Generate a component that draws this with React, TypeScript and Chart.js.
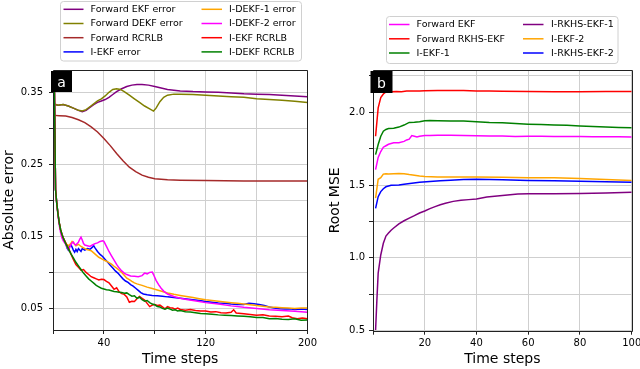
import React, { useEffect, useRef } from 'react';
import { Chart, registerables } from 'chart.js';

Chart.register(...registerables);

const FONT = "'DejaVu Sans', 'Liberation Sans', sans-serif";

type Pt = [number, number];

// ---------------- Panel (a): absolute error vs time step ----------------
const forwardEkfError: Pt[] = [[1,0.333],[4,0.332],[8,0.333],[12,0.331],[16,0.328],[20,0.325],[23,0.323],[26,0.325],[29,0.329],[32,0.333],[35,0.336],[38,0.338],[41,0.34],[44,0.343],[47,0.347],[50,0.351],[54,0.355],[58,0.358],[62,0.36],[66,0.361],[70,0.361],[75,0.36],[80,0.358],[85,0.356],[90,0.354],[95,0.353],[100,0.352],[110,0.351],[120,0.3505],[130,0.35],[140,0.349],[150,0.348],[160,0.3475],[170,0.347],[180,0.346],[190,0.345],[200,0.344]];
const forwardDekfError: Pt[] = [[1,0.334],[4,0.332],[8,0.333],[12,0.331],[16,0.328],[20,0.325],[23,0.324],[26,0.326],[29,0.33],[32,0.334],[35,0.338],[38,0.341],[41,0.345],[44,0.35],[47,0.354],[50,0.355],[53,0.354],[56,0.351],[60,0.346],[64,0.341],[68,0.336],[72,0.331],[76,0.327],[79,0.324],[81,0.328],[84,0.337],[87,0.343],[90,0.346],[95,0.3475],[100,0.3475],[110,0.347],[120,0.346],[130,0.345],[140,0.344],[150,0.343],[160,0.341],[170,0.34],[180,0.339],[190,0.3375],[200,0.336]];
const forwardRcrlb: Pt[] = [[1,0.318],[5,0.3175],[10,0.317],[15,0.315],[20,0.312],[25,0.308],[30,0.302],[35,0.295],[40,0.286],[45,0.276],[50,0.265],[55,0.255],[60,0.246],[65,0.24],[70,0.235],[75,0.232],[80,0.23],[90,0.2285],[100,0.228],[120,0.2275],[150,0.227],[200,0.227]];
const iEkfError: Pt[] = [[1,0.37],[2,0.215],[3,0.195],[4,0.18],[5,0.168],[6,0.159],[7,0.153],[8,0.148],[10,0.14],[11,0.134],[12,0.131],[13,0.136],[14,0.139],[15,0.135],[16,0.131],[17,0.128],[18,0.132],[19,0.129],[20,0.133],[21,0.131],[22,0.129],[23,0.133],[25,0.131],[27,0.133],[29,0.132],[31,0.135],[32,0.137],[33,0.134],[35,0.129],[37,0.125],[39,0.122],[41,0.118],[43,0.114],[45,0.11],[47,0.106],[49,0.102],[51,0.099],[53,0.095],[55,0.091],[57,0.088],[59,0.086],[61,0.083],[63,0.081],[65,0.078],[67,0.075],[69,0.072],[71,0.07],[74,0.069],[78,0.068],[82,0.0675],[86,0.067],[90,0.066],[95,0.065],[100,0.064],[105,0.063],[110,0.062],[115,0.061],[120,0.0595],[125,0.0585],[130,0.0575],[135,0.057],[140,0.056],[145,0.0555],[150,0.0555],[154,0.057],[158,0.0565],[162,0.0555],[166,0.054],[170,0.052],[174,0.0505],[178,0.0495],[182,0.049],[186,0.0495],[190,0.0485],[195,0.049],[200,0.0485]];
const iDekf1Error: Pt[] = [[1,0.37],[2,0.215],[3,0.195],[4,0.18],[5,0.168],[6,0.159],[7,0.153],[8,0.148],[10,0.14],[12,0.137],[14,0.14],[15,0.143],[16,0.141],[18,0.137],[20,0.139],[22,0.136],[24,0.134],[26,0.132],[28,0.131],[30,0.13],[32,0.127],[34,0.124],[36,0.121],[38,0.119],[40,0.117],[42,0.1155],[44,0.1135],[46,0.1115],[48,0.1085],[50,0.106],[52,0.103],[54,0.1],[56,0.096],[58,0.092],[60,0.09],[62,0.0875],[64,0.0855],[66,0.084],[68,0.083],[70,0.082],[74,0.0795],[78,0.0775],[82,0.0755],[86,0.0735],[90,0.0715],[95,0.0695],[100,0.068],[105,0.0665],[110,0.065],[115,0.0635],[120,0.062],[125,0.061],[130,0.06],[135,0.059],[140,0.058],[145,0.057],[150,0.056],[155,0.055],[160,0.054],[165,0.053],[170,0.052],[175,0.0515],[180,0.051],[185,0.0505],[190,0.05],[195,0.0505],[200,0.0505]];
const iDekf2Error: Pt[] = [[1,0.37],[2,0.215],[3,0.195],[4,0.178],[5,0.165],[6,0.155],[7,0.148],[8,0.144],[10,0.139],[12,0.132],[13,0.134],[14,0.138],[15,0.141],[16,0.142],[17,0.139],[18,0.138],[19,0.14],[20,0.142],[21,0.146],[22,0.149],[23,0.145],[24,0.14],[25,0.138],[27,0.137],[29,0.136],[31,0.138],[33,0.14],[35,0.141],[37,0.143],[39,0.144],[40,0.143],[42,0.136],[44,0.129],[46,0.123],[48,0.117],[50,0.111],[52,0.106],[54,0.102],[56,0.099],[58,0.097],[61,0.095],[64,0.0945],[67,0.094],[70,0.0955],[72,0.099],[74,0.098],[76,0.1],[78,0.1005],[79,0.097],[81,0.089],[83,0.083],[85,0.078],[87,0.074],[90,0.07],[95,0.0665],[100,0.064],[105,0.0625],[110,0.061],[115,0.0595],[120,0.058],[130,0.056],[140,0.0535],[150,0.0515],[160,0.05],[170,0.048],[180,0.047],[190,0.046],[200,0.0448]];
const iEkfRcrlb: Pt[] = [[1,0.37],[2,0.215],[3,0.195],[4,0.18],[5,0.168],[6,0.159],[7,0.153],[8,0.148],[10,0.141],[12,0.134],[14,0.126],[16,0.118],[18,0.111],[20,0.107],[22,0.103],[24,0.104],[26,0.1],[28,0.097],[30,0.094],[32,0.0925],[34,0.091],[36,0.0895],[38,0.0905],[40,0.09],[42,0.0875],[44,0.0855],[46,0.081],[48,0.0765],[50,0.0785],[52,0.073],[54,0.0705],[56,0.0695],[58,0.066],[60,0.0585],[62,0.06],[64,0.0595],[66,0.0635],[68,0.0665],[70,0.064],[72,0.0615],[74,0.057],[76,0.0525],[78,0.0545],[80,0.0555],[82,0.054],[84,0.0545],[86,0.052],[88,0.0495],[90,0.0525],[92,0.051],[94,0.0505],[96,0.049],[98,0.0505],[100,0.0485],[104,0.0475],[108,0.0485],[112,0.047],[116,0.0465],[120,0.0465],[124,0.045],[128,0.0455],[132,0.044],[136,0.0435],[140,0.0445],[142,0.048],[144,0.0435],[150,0.0425],[155,0.0415],[160,0.0405],[165,0.041],[170,0.0395],[175,0.039],[180,0.0385],[185,0.0395],[188,0.037],[192,0.0355],[196,0.0365],[200,0.0355]];
const iDekfRcrlb: Pt[] = [[1,0.37],[2,0.215],[3,0.195],[4,0.18],[5,0.168],[6,0.159],[7,0.153],[8,0.148],[10,0.14],[12,0.133],[14,0.126],[16,0.12],[18,0.114],[20,0.109],[22,0.104],[24,0.099],[26,0.095],[28,0.091],[30,0.088],[32,0.085],[34,0.082],[36,0.08],[38,0.078],[40,0.077],[42,0.076],[44,0.0755],[46,0.0745],[48,0.0735],[50,0.073],[52,0.0725],[54,0.072],[56,0.071],[58,0.0715],[60,0.069],[62,0.067],[64,0.0675],[66,0.064],[68,0.0655],[70,0.062],[72,0.06],[74,0.061],[76,0.058],[78,0.056],[80,0.055],[82,0.0525],[84,0.052],[86,0.05],[88,0.049],[90,0.0505],[92,0.049],[94,0.0475],[96,0.048],[98,0.0465],[100,0.047],[104,0.0455],[108,0.045],[112,0.044],[116,0.043],[120,0.0425],[125,0.042],[130,0.041],[135,0.0405],[140,0.04],[145,0.0395],[150,0.039],[155,0.0385],[160,0.0375],[165,0.0375],[170,0.0355],[175,0.036],[180,0.035],[185,0.0345],[190,0.0355],[195,0.0335],[200,0.034]];

const panelATimeTicks = [0, 40, 80, 120, 160, 200];
const panelATimeLabels = ['', '40', '', '120', '', '200'];
const panelAErrorTicks = [0.05, 0.1, 0.15, 0.2, 0.25, 0.3, 0.35];
const panelAErrorLabels = ['0.05', '', '0.15', '', '0.25', '', '0.35'];

// ---------------- Panel (b): root MSE vs time step ----------------
const forwardEkf: Pt[] = [[1,1.606],[2,1.69],[3,1.73],[4,1.76],[5,1.77],[6,1.78],[7,1.785],[8,1.79],[10,1.79],[12,1.8],[13,1.81],[14,1.815],[15,1.84],[16,1.835],[17,1.83],[18,1.835],[20,1.84],[22,1.84],[25,1.842],[30,1.842],[35,1.84],[40,1.838],[45,1.836],[50,1.836],[55,1.834],[60,1.835],[65,1.835],[70,1.834],[75,1.834],[80,1.833],[85,1.832],[90,1.832],[95,1.831],[100,1.83]];
const forwardRkhsEkf: Pt[] = [[1,1.835],[2,2.03],[3,2.1],[4,2.125],[5,2.14],[7,2.14],[9,2.142],[11,2.14],[13,2.145],[15,2.146],[18,2.145],[20,2.148],[25,2.15],[30,2.15],[35,2.149],[40,2.146],[45,2.145],[50,2.144],[60,2.142],[70,2.141],[80,2.141],[90,2.142],[100,2.142]];
const iEkf1: Pt[] = [[1,1.709],[2,1.778],[3,1.835],[4,1.87],[5,1.882],[6,1.888],[8,1.89],[10,1.898],[12,1.912],[14,1.93],[16,1.932],[18,1.935],[20,1.942],[22,1.944],[25,1.942],[30,1.94],[35,1.94],[40,1.935],[45,1.93],[50,1.927],[55,1.922],[60,1.918],[65,1.915],[70,1.912],[75,1.91],[80,1.906],[85,1.902],[90,1.898],[95,1.895],[100,1.893]];
const iRkhsEkf1: Pt[] = [[1,0.505],[1.5,0.71],[2,0.895],[3,1.02],[4,1.1],[5,1.15],[6,1.17],[7,1.19],[8,1.205],[10,1.234],[12,1.255],[14,1.273],[16,1.29],[18,1.308],[20,1.322],[22,1.338],[24,1.352],[26,1.365],[28,1.375],[31,1.388],[34,1.395],[37,1.4],[40,1.405],[44,1.418],[48,1.425],[52,1.432],[56,1.438],[60,1.44],[70,1.44],[80,1.442],[90,1.446],[100,1.45]];
const iEkf2: Pt[] = [[1,1.41],[2,1.54],[3,1.55],[4,1.575],[5,1.578],[6,1.576],[8,1.578],[10,1.58],[12,1.578],[14,1.572],[16,1.568],[18,1.562],[20,1.558],[25,1.555],[30,1.556],[40,1.556],[50,1.553],[60,1.55],[70,1.55],[80,1.545],[90,1.538],[100,1.532]];
const iRkhsEkf2: Pt[] = [[1,1.34],[2,1.42],[3,1.455],[4,1.475],[5,1.488],[7,1.498],[10,1.5],[12,1.505],[15,1.512],[18,1.52],[22,1.525],[26,1.53],[30,1.533],[35,1.538],[40,1.54],[45,1.538],[50,1.536],[60,1.532],[70,1.53],[80,1.526],[90,1.523],[100,1.52]];

const panelBTimeTicks = [0, 20, 40, 60, 80, 100];
const panelBTimeLabels = ['', '20', '40', '60', '80', '100'];
const panelBRmseTicks = [0.5, 0.75, 1, 1.25, 1.5, 1.75, 2, 2.25];
const panelBRmseLabels = ['0.5', '', '1.0', '', '1.5', '', '2.0', ''];

type Series = { label: string; color: string; points: Pt[] };

const seriesA: Series[] = [
  { label: 'Forward EKF error', color: '#800080', points: forwardEkfError },
  { label: 'Forward DEKF error', color: '#808000', points: forwardDekfError },
  { label: 'Forward RCRLB', color: '#a52a2a', points: forwardRcrlb },
  { label: 'I-EKF error', color: '#0000ff', points: iEkfError },
  { label: 'I-DEKF-1 error', color: '#ffa500', points: iDekf1Error },
  { label: 'I-DEKF-2 error', color: '#ff00ff', points: iDekf2Error },
  { label: 'I-EKF RCRLB', color: '#ff0000', points: iEkfRcrlb },
  { label: 'I-DEKF RCRLB', color: '#008000', points: iDekfRcrlb },
];

const seriesB: Series[] = [
  { label: 'Forward EKF', color: '#ff00ff', points: forwardEkf },
  { label: 'Forward RKHS-EKF', color: '#ff0000', points: forwardRkhsEkf },
  { label: 'I-EKF-1', color: '#008000', points: iEkf1 },
  { label: 'I-RKHS-EKF-1', color: '#800080', points: iRkhsEkf1 },
  { label: 'I-EKF-2', color: '#ffa500', points: iEkf2 },
  { label: 'I-RKHS-EKF-2', color: '#0000ff', points: iRkhsEkf2 },
];

type LegendSpec = {
  box: [number, number, number, number];
  rowY: number[];
  cols: { x0: number; x1: number; tx: number }[];
};

type PanelSpec = {
  series: Series[];
  width: number;
  xMin: number; xMax: number; xTicks: number[]; xLabels: string[];
  yMin: number; yMax: number; yTicks: number[]; yLabels: string[];
  yTitle: string;
  padRight: number;
  xAxisHeight: number;
  yTitlePad: number;
  yTickPad: number;
  letter: string;
  letterBox: [number, number, number, number];
  legend: LegendSpec;
};

const crisp = (p: number) => Math.round(p - 0.5) + 0.5;

function makeChart(canvas: HTMLCanvasElement, spec: PanelSpec) {
  const n = spec.series.length;
  const overlay = {
    id: 'overlay',
    afterDatasetsDraw(chart: any) {
      const { ctx, chartArea: a } = chart;
      ctx.save();
      ctx.strokeStyle = '#222';
      ctx.lineWidth = 1;
      ctx.beginPath();
      ctx.rect(crisp(a.left), crisp(a.top), Math.round(a.right - a.left), Math.round(a.bottom - a.top));
      ctx.stroke();
      const [dx, dy, bw, bh] = spec.letterBox;
      ctx.fillStyle = '#000';
      ctx.fillRect(a.left + dx, a.top + dy, bw, bh);
      ctx.fillStyle = '#fff';
      ctx.font = `14px ${FONT}`;
      ctx.textAlign = 'center';
      ctx.textBaseline = 'alphabetic';
      ctx.fillText(spec.letter, a.left + dx + bw / 2, a.top + dy + bh - 5);
      const lg = spec.legend;
      const [bx, by, bW, bH] = lg.box;
      ctx.beginPath();
      const r = 3;
      ctx.moveTo(bx + r, by);
      ctx.lineTo(bx + bW - r, by);
      ctx.quadraticCurveTo(bx + bW, by, bx + bW, by + r);
      ctx.lineTo(bx + bW, by + bH - r);
      ctx.quadraticCurveTo(bx + bW, by + bH, bx + bW - r, by + bH);
      ctx.lineTo(bx + r, by + bH);
      ctx.quadraticCurveTo(bx, by + bH, bx, by + bH - r);
      ctx.lineTo(bx, by + r);
      ctx.quadraticCurveTo(bx, by, bx + r, by);
      ctx.closePath();
      ctx.fillStyle = '#fff';
      ctx.fill();
      ctx.strokeStyle = '#d0d0d0';
      ctx.lineWidth = 1;
      ctx.stroke();
      const perCol = lg.rowY.length;
      ctx.font = `9.5px ${FONT}`;
      ctx.textAlign = 'left';
      ctx.textBaseline = 'middle';
      spec.series.forEach((s, i) => {
        const col = lg.cols[Math.floor(i / perCol)];
        const y = lg.rowY[i % perCol];
        ctx.strokeStyle = s.color;
        ctx.lineWidth = 1.5;
        ctx.beginPath();
        ctx.moveTo(col.x0, y);
        ctx.lineTo(col.x1, y);
        ctx.stroke();
        ctx.fillStyle = '#000';
        ctx.fillText(s.label, col.tx, y + 0.5);
      });
      ctx.restore();
    },
  };

  const gridCommon = {
    color: '#cfcfcf',
    lineWidth: 1,
    tickLength: 4,
    tickColor: '#222',
    drawTicks: true,
  };

  return new Chart(canvas, {
    type: 'line',
    data: {
      datasets: spec.series.map((s, i) => ({
        label: s.label,
        data: s.points.map(([x, y]) => ({ x, y })),
        borderColor: s.color,
        backgroundColor: s.color,
        borderWidth: 1.5,
        pointRadius: 0,
        fill: false,
        tension: 0,
        order: n - i,
      })),
    },
    options: {
      animation: false,
      responsive: false,
      events: [],
      layout: { padding: { left: 0, right: spec.padRight, top: 70, bottom: 0 } },
      plugins: { legend: { display: false }, tooltip: { enabled: false } },
      scales: {
        x: {
          type: 'linear',
          min: spec.xMin,
          max: spec.xMax,
          afterBuildTicks: (s: any) => { s.ticks = spec.xTicks.map((v) => ({ value: v })); },
          afterFit: (s: any) => { s.height = spec.xAxisHeight; },
          ticks: {
            autoSkip: false,
            maxRotation: 0,
            padding: 3,
            color: '#000',
            font: { family: FONT, size: 10 },
            callback: (_v: any, i: number) => spec.xLabels[i],
          },
          grid: gridCommon,
          border: { display: false },
          title: {
            display: true,
            text: 'Time steps',
            color: '#000',
            font: { family: FONT, size: 14 },
            padding: { top: 0, bottom: 1.6 },
          },
        },
        y: {
          type: 'linear',
          min: spec.yMin,
          max: spec.yMax,
          afterBuildTicks: (s: any) => { s.ticks = spec.yTicks.map((v) => ({ value: v })); },
          afterFit: (s: any) => { s.width = 53; },
          ticks: {
            autoSkip: false,
            padding: spec.yTickPad,
            color: '#000',
            font: { family: FONT, size: 10 },
            callback: (_v: any, i: number) => spec.yLabels[i],
          },
          grid: gridCommon,
          border: { display: false },
          title: {
            display: true,
            text: spec.yTitle,
            color: '#000',
            font: { family: FONT, size: 14 },
            padding: { top: spec.yTitlePad, bottom: 0 },
          },
        },
      },
    },
    plugins: [overlay],
  } as any);
}

const panelA: PanelSpec = {
  series: seriesA,
  width: 320,
  xMin: 0, xMax: 200, xTicks: panelATimeTicks, xLabels: panelATimeLabels,
  yMin: 0.02, yMax: 0.381, yTicks: panelAErrorTicks, yLabels: panelAErrorLabels,
  yTitle: 'Absolute error',
  padRight: 11,
  xAxisHeight: 39,
  yTitlePad: 1,
  yTickPad: 6,
  letter: 'a',
  letterBox: [-2, 1, 21, 21],
  legend: {
    box: [60.5, 1.5, 241, 59.5],
    rowY: [9.3, 23.5, 37.7, 51.9],
    cols: [
      { x0: 63.5, x1: 83.5, tx: 90.5 },
      { x0: 201.5, x1: 222, tx: 229 },
    ],
  },
};

const panelB: PanelSpec = {
  series: seriesB,
  width: 330,
  xMin: 0, xMax: 100, xTicks: panelBTimeTicks, xLabels: panelBTimeLabels,
  yMin: 0.5, yMax: 2.29, yTicks: panelBRmseTicks, yLabels: panelBRmseLabels,
  yTitle: 'Root MSE',
  padRight: 18.3,
  xAxisHeight: 38.3,
  yTitlePad: 6.6,
  yTickPad: 4,
  letter: 'b',
  letterBox: [-2.5, 1, 22, 22],
  legend: {
    box: [66.5, 16.5, 231.5, 47],
    rowY: [24.5, 38.8, 53],
    cols: [
      { x0: 69, x1: 89.5, tx: 96.5 },
      { x0: 203, x1: 223.5, tx: 231 },
    ],
  },
};

function Panel({ spec, left }: { spec: PanelSpec; left: number }) {
  const ref = useRef<HTMLCanvasElement | null>(null);
  useEffect(() => {
    if (!ref.current) return;
    const chart = makeChart(ref.current, spec);
    return () => chart.destroy();
  }, [spec]);
  return (
    <canvas
      ref={ref}
      width={spec.width}
      height={369}
      style={{ position: 'absolute', left, top: 0, width: spec.width, height: 369 }}
    />
  );
}

export default function App() {
  return (
    <div
      style={{
        position: 'absolute',
        left: 0,
        top: 0,
        width: 640,
        height: 369,
        overflow: 'hidden',
        background: '#fff',
      }}
    >
      <Panel spec={panelA} left={0} />
      <Panel spec={panelB} left={320} />
    </div>
  );
}
